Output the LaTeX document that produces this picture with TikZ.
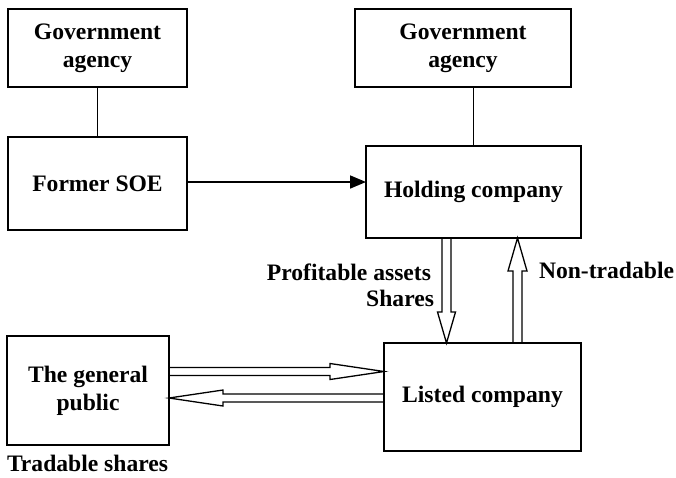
\documentclass[tikz,border=0pt]{standalone}
\usepackage{fontspec}
\setmainfont{Liberation Serif}
\usetikzlibrary{arrows.meta,calc}
\tikzset{
  box/.style={draw, line width=1.7pt, inner sep=0pt, outer sep=0pt, align=center},
  link/.style={line width=1.7pt},
  blk/.style={line width=1.3pt, line join=miter},
  lbl/.style={inner sep=0pt, outer sep=0pt}
}
\newcommand\blockarrow[5]{%
  \coordinate (ba-h) at ($(#2)!#5!(#1)$);
  \draw[blk] ($(#1)!#3!90:(#2)$) -- ($(ba-h)!#3!90:(#2)$) -- ($(ba-h)!#4!90:(#2)$)
    -- (#2) -- ($(ba-h)!#4!-90:(#2)$) -- ($(ba-h)!#3!-90:(#2)$) -- ($(#1)!#3!-90:(#2)$);}
\begin{document}
\begin{tikzpicture}[x=1pt, y=-1pt, font=\bfseries\fontsize{23.6}{28}\selectfont]
\useasboundingbox (0,0) rectangle (676,477);
% boxes
\node[box, minimum width=179pt, minimum height=78pt] (ga1) at (97.5,48) {Government\\agency};
\node[box, minimum width=216pt, minimum height=78pt] (ga2) at (463,48) {Government\\agency};
\node[box, minimum width=179pt, minimum height=93pt] (soe) at (97.5,183.5) {Former SOE};
\node[box, minimum width=215pt, minimum height=92pt] (hold) at (473.5,192) {Holding company};
\node[box, minimum width=197pt, minimum height=108pt] (list) at (482.5,397) {Listed company};
\node[box, minimum width=162pt, minimum height=109pt] (pub) at (88,390.5) {The general\\public};
% plain connectors
\draw[link] (ga1.south) -- (soe.north);
\draw[link] (hold.north |- ga2.south) -- (hold.north);
\draw[link, -{Triangle[length=16pt, width=13pt]}] (soe.east |- 0,182) -- (hold.west |- 0,182);
% block arrows
\coordinate (d1) at ([xshift=-27pt]hold.south);
\coordinate (d2) at (d1 |- list.north);
\blockarrow{d1}{d2}{4.5pt}{9pt}{31pt}
\coordinate (u1) at ([xshift=35pt]list.north);
\coordinate (u2) at (u1 |- hold.south);
\blockarrow{u1}{u2}{4.5pt}{9.5pt}{33pt}
\coordinate (r1) at ([yshift=19pt]pub.east);
\coordinate (r2) at (r1 -| list.west);
\blockarrow{r1}{r2}{4pt}{8pt}{54pt}
\coordinate (l2) at ([yshift=-7.5pt]pub.east);
\coordinate (l1) at (l2 -| list.west);
\blockarrow{l1}{l2}{4pt}{8pt}{54pt}
% labels
\node[lbl, anchor=base east] (pa) at (431,280) {Profitable assets};
\node[lbl, anchor=base east] (sh) at (434,306) {Shares};
\node[lbl, anchor=base west] (nt) at (539,278) {Non-tradable};
\node[lbl, anchor=base west] (ts) at (7,471) {Tradable shares};
\end{tikzpicture}
\end{document}
